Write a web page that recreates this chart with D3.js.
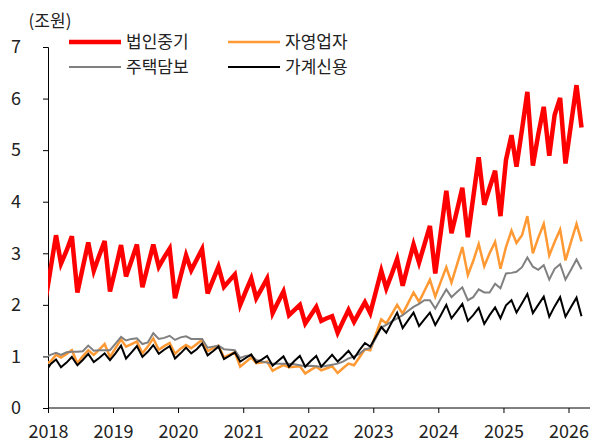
<!DOCTYPE html>
<head>
<meta charset="utf-8">
<style>
  body { margin: 0; background: #fff; }
  svg { display: block; }
  text { font-family: "Noto Sans CJK KR", "Noto Sans", sans-serif; fill: #222; }
</style>
</head>
<body>
<script src="https://cdn.jsdelivr.net/npm/d3@7"></script>
<script>

// monthly, Dec 2017 .. Mar 2026 (first point sits left of the axis and is clipped)
var startMonth = [2017, 11];

var corpSme = [2.03, 2.69, 3.35, 2.80, 3.05, 3.33, 2.24, 2.72, 3.21, 2.66, 2.95, 3.24,
  2.26, 2.70, 3.16, 2.55, 2.86, 3.17, 2.34, 2.75, 3.17, 2.74, 2.92, 3.09,
  2.13, 2.55, 2.96, 2.67, 2.88, 3.08, 2.22, 2.48, 2.74, 2.35, 2.47, 2.59,
  2.00, 2.26, 2.51, 2.13, 2.32, 2.51, 1.84, 2.05, 2.26, 1.80, 1.90, 2.00,
  1.64, 1.80, 1.96, 1.69, 1.74, 1.78, 1.46, 1.68, 1.90, 1.67, 1.86, 2.05,
  1.84, 2.25, 2.66, 2.32, 2.60, 2.89, 2.37, 2.77, 3.17, 2.82, 3.17, 3.53,
  2.61, 3.41, 4.21, 3.39, 3.83, 4.27, 3.31, 4.08, 4.86, 3.94, 4.27, 4.60,
  3.72, 4.81, 5.29, 4.68, 5.40, 6.13, 4.70, 5.30, 5.84, 4.89, 5.68, 6.01,
  4.74, 5.50, 6.26, 5.44];

var selfEmployed = [0.85, 0.90, 1.03, 0.98, 1.05, 1.12, 0.87, 1.00, 1.12, 1.03, 1.13, 1.24,
  0.99, 1.16, 1.33, 1.19, 1.24, 1.29, 1.06, 1.19, 1.35, 1.13, 1.20, 1.26,
  1.05, 1.15, 1.22, 1.16, 1.24, 1.32, 1.10, 1.16, 1.21, 0.98, 1.03, 1.08,
  0.80, 0.89, 0.98, 0.87, 0.88, 0.90, 0.72, 0.78, 0.83, 0.79, 0.80, 0.81,
  0.67, 0.74, 0.80, 0.73, 0.77, 0.81, 0.68, 0.77, 0.86, 0.83, 0.98, 1.14,
  1.12, 1.42, 1.72, 1.64, 1.82, 2.00, 1.83, 2.03, 2.24, 2.06, 2.27, 2.49,
  2.16, 2.45, 2.73, 2.43, 2.78, 3.12, 2.58, 2.85, 3.18, 2.75, 3.00, 3.22,
  2.70, 3.12, 3.44, 3.20, 3.35, 3.72, 3.00, 3.30, 3.57, 2.96, 3.22, 3.46,
  2.86, 3.22, 3.57, 3.23];

var mortgage = [0.98, 1.03, 1.07, 1.03, 1.08, 1.09, 1.09, 1.10, 1.21, 1.11, 1.12, 1.12,
  1.12, 1.25, 1.38, 1.31, 1.34, 1.35, 1.24, 1.27, 1.45, 1.34, 1.36, 1.40,
  1.32, 1.37, 1.39, 1.34, 1.34, 1.34, 1.17, 1.19, 1.21, 1.14, 1.13, 1.12,
  0.97, 1.01, 1.02, 0.93, 0.90, 0.88, 0.86, 0.86, 0.86, 0.86, 0.85, 0.83,
  0.81, 0.82, 0.81, 0.80, 0.82, 0.84, 0.86, 0.90, 0.96, 1.00, 1.05, 1.14,
  1.16, 1.35, 1.56, 1.61, 1.68, 1.74, 1.80, 1.88, 1.96, 2.02, 2.09, 2.09,
  1.93, 2.12, 2.30, 2.15, 2.25, 2.34, 2.09, 2.15, 2.30, 2.24, 2.24, 2.41,
  2.32, 2.61, 2.62, 2.64, 2.73, 2.92, 2.74, 2.68, 2.77, 2.49, 2.70, 2.79,
  2.49, 2.68, 2.88, 2.69];

var householdCredit = [0.68, 0.85, 0.94, 0.79, 0.88, 0.99, 0.83, 0.93, 1.05, 0.89, 0.97, 1.06,
  0.93, 1.06, 1.21, 0.96, 1.08, 1.20, 0.99, 1.09, 1.22, 1.05, 1.13, 1.20,
  0.96, 1.06, 1.17, 1.06, 1.14, 1.25, 1.02, 1.10, 1.19, 0.95, 1.01, 1.08,
  0.90, 0.97, 1.04, 0.88, 0.94, 1.01, 0.82, 0.91, 1.00, 0.80, 0.91, 1.01,
  0.80, 0.91, 1.01, 0.80, 0.92, 1.03, 0.90, 1.00, 1.11, 0.96, 1.12, 1.26,
  1.19, 1.38, 1.57, 1.46, 1.66, 1.85, 1.55, 1.70, 1.85, 1.59, 1.72, 1.85,
  1.61, 1.80, 2.00, 1.74, 1.88, 2.02, 1.69, 1.80, 1.94, 1.63, 1.80, 1.95,
  1.74, 1.99, 2.09, 1.85, 2.03, 2.21, 1.84, 2.00, 2.16, 1.77, 1.97, 2.15,
  1.77, 1.96, 2.14, 1.78];

var seriesNames = ["법인중기", "자영업자", "주택담보", "가계신용"];
var seriesColors = ["#ff0000", "#ff9933", "#808080", "#000000"];
var seriesWidths = [4.5, 2.5, 2, 2];
var yTicks = [0, 1, 2, 3, 4, 5, 6, 7];
var yearTicks = [2018, 2019, 2020, 2021, 2022, 2023, 2024, 2025, 2026];
var unitLabel = "(조원)";

var width = 597, height = 443;
var plotLeft = 48, plotRight = 590, plotTop = 47, plotBottom = 408;

var svg = d3.select("body").append("svg")
    .attr("width", width)
    .attr("height", height);

var x = d3.scaleTime()
    .domain([new Date(2018, 0, 1), new Date(2026, 0, 1)])
    .range([plotLeft, 568.5]);

var y = d3.scaleLinear()
    .domain([0, 7])
    .range([plotBottom, plotTop]);

function monthDate(i) {
  return new Date(startMonth[0], startMonth[1] + i, 15);
}

var allSeries = [corpSme, selfEmployed, mortgage, householdCredit].map(function(vals, k) {
  return {
    name: seriesNames[k],
    color: seriesColors[k],
    width: seriesWidths[k],
    values: vals.map(function(v, i) { return {date: monthDate(i), value: v}; })
  };
});

svg.append("clipPath").attr("id", "plot")
  .append("rect")
    .attr("x", plotLeft).attr("y", 0)
    .attr("width", plotRight - plotLeft).attr("height", plotBottom);

var line = d3.line()
    .x(function(d) { return x(d.date); })
    .y(function(d) { return y(d.value); });

// y axis
var yAxis = svg.append("g")
    .attr("transform", "translate(" + plotLeft + ",0)")
    .call(d3.axisLeft(y).tickValues(yTicks).tickSize(5).tickPadding(22).tickFormat(d3.format("d")));

// x axis
var xAxis = svg.append("g")
    .attr("transform", "translate(0," + plotBottom + ")")
    .call(d3.axisBottom(x)
      .tickValues(yearTicks.map(function(yr) { return new Date(yr, 0, 1); }))
      .tickSize(5).tickPadding(12).tickFormat(d3.timeFormat("%Y")));

xAxis.select(".domain").attr("d", "M" + plotLeft + ",0H" + plotRight);

[yAxis, xAxis].forEach(function(g) {
  g.selectAll("text")
      .style("font-family", '"Noto Sans CJK KR", sans-serif')
      .style("font-size", "18px")
      .attr("fill", "#222");
  g.selectAll("line, path").attr("stroke", "#000");
});

svg.append("g")
    .attr("clip-path", "url(#plot)")
  .selectAll("path")
  .data(allSeries)
  .enter().append("path")
    .attr("fill", "none")
    .attr("stroke", function(d) { return d.color; })
    .attr("stroke-width", function(d) { return d.width; })
    .attr("stroke-linejoin", "miter")
    .attr("d", function(d) { return line(d.values); });

svg.append("text")
    .attr("x", 50).attr("y", 27)
    .attr("text-anchor", "middle")
    .style("font-size", "17px")
    .text(unitLabel);

// legend, two columns
var legendPos = [[69, 42], [228, 42], [69, 67], [228, 67]];
var legend = svg.append("g").selectAll("g")
  .data(allSeries)
  .enter().append("g")
    .attr("transform", function(d, i) { return "translate(" + legendPos[i][0] + "," + legendPos[i][1] + ")"; });

legend.append("line")
    .attr("x1", 0).attr("x2", 52)
    .attr("stroke", function(d) { return d.color; })
    .attr("stroke-width", function(d) { return d.width; });

legend.append("text")
    .attr("x", 57).attr("dy", "0.35em")
    .style("font-size", "17px")
    .text(function(d) { return d.name; });

</script>
</body>
